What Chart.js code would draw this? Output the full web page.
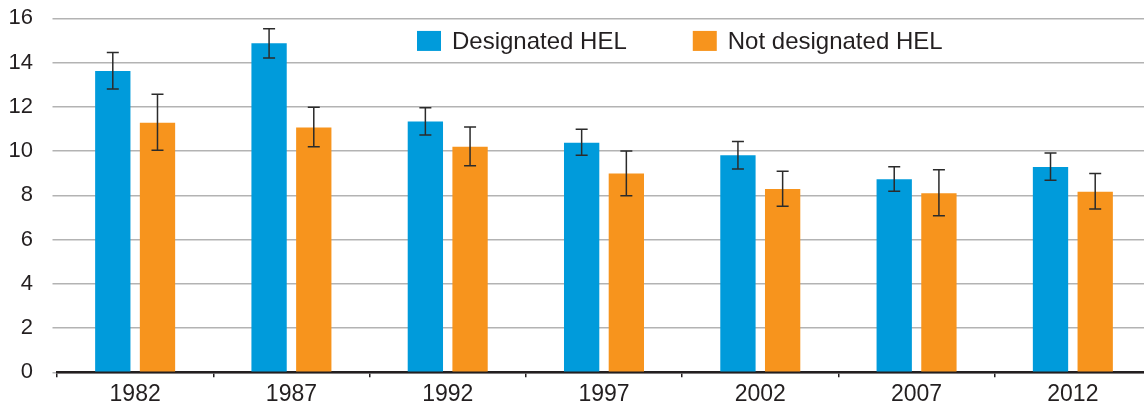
<!DOCTYPE html>
<html>
<head>
<meta charset="utf-8">
<script src="https://cdn.jsdelivr.net/npm/chart.js@4.4.1/dist/chart.umd.min.js"></script>
<style>
  html, body { margin: 0; padding: 0; background: #ffffff; overflow: hidden; }
  #wrap { width: 1152px; height: 404px; }
</style>
</head>
<body>
<div id="wrap"><canvas id="chart" width="1152" height="404"></canvas></div>
<script>
// Survey years on the category axis
const years = ['1982', '1987', '1992', '1997', '2002', '2007', '2012'];

// Designated HEL: estimate and confidence bounds
const helValues = [13.62, 14.87, 11.33, 10.38, 9.81, 8.72, 9.28];
const helLow    = [12.81, 14.21, 10.73, 9.81, 9.19, 8.18, 8.68];
const helHigh   = [14.45, 15.53, 11.96, 10.98, 10.43, 9.29, 9.91];

// Not designated HEL: estimate and confidence bounds
const nonHelValues = [11.28, 11.07, 10.20, 8.98, 8.29, 8.09, 8.16];
const nonHelLow    = [10.04, 10.19, 9.34, 7.98, 7.50, 7.08, 7.38];
const nonHelHigh   = [12.57, 11.98, 11.09, 10.00, 9.09, 9.15, 8.98];

// Value axis ticks
const yTicks = [0, 2, 4, 6, 8, 10, 12, 14, 16];

const FONT = '"Liberation Sans", Arial, Helvetica, sans-serif';
const TEXT = '#231f20';
const BLUE = '#009bdb';
const ORANGE = '#f7941d';

// Whisker lines drawn from each dataset's errLow / errHigh arrays
const errorBars = {
  id: 'errorBars',
  afterDatasetsDraw(chart) {
    const ctx = chart.ctx;
    const y = chart.scales.y;
    ctx.save();
    ctx.strokeStyle = '#2b2b2b';
    ctx.lineWidth = 1.5;
    chart.data.datasets.forEach((ds, i) => {
      const meta = chart.getDatasetMeta(i);
      meta.data.forEach((bar, j) => {
        const x = bar.x;
        const yl = y.getPixelForValue(ds.errLow[j]);
        const yh = y.getPixelForValue(ds.errHigh[j]);
        const cap = 6;
        ctx.beginPath();
        ctx.moveTo(x, yl); ctx.lineTo(x, yh);
        ctx.moveTo(x - cap, yl); ctx.lineTo(x + cap, yl);
        ctx.moveTo(x - cap, yh); ctx.lineTo(x + cap, yh);
        ctx.stroke();
      });
    });
    ctx.restore();
  }
};

// Legend row placed inside the plot, between the top gridlines
const insideLegend = {
  id: 'insideLegend',
  afterDatasetsDraw(chart) {
    const ctx = chart.ctx;
    const y = chart.scales.y;
    const midY = (y.getPixelForValue(16) + y.getPixelForValue(14)) / 2 + 0.5;
    let x = 417;
    ctx.save();
    ctx.font = '24px ' + FONT;
    ctx.textBaseline = 'middle';
    ctx.textAlign = 'left';
    chart.data.datasets.forEach((ds) => {
      ctx.fillStyle = ds.backgroundColor;
      ctx.fillRect(x, midY - 10, 24, 20);
      ctx.fillStyle = TEXT;
      ctx.fillText(ds.label, x + 35, midY + 1);
      x += 35 + ctx.measureText(ds.label).width + 66;
    });
    ctx.restore();
  }
};

new Chart(document.getElementById('chart'), {
  type: 'bar',
  data: {
    labels: years,
    datasets: [
      {
        label: 'Designated HEL',
        data: helValues,
        errLow: helLow,
        errHigh: helHigh,
        backgroundColor: BLUE,
        borderWidth: 0,
        categoryPercentage: 0.572,
        barPercentage: 0.79
      },
      {
        label: 'Not designated HEL',
        data: nonHelValues,
        errLow: nonHelLow,
        errHigh: nonHelHigh,
        backgroundColor: ORANGE,
        borderWidth: 0,
        categoryPercentage: 0.572,
        barPercentage: 0.79
      }
    ]
  },
  options: {
    responsive: false,
    animation: false,
    devicePixelRatio: 1,
    layout: { padding: { top: 18.3, left: 0, right: 1, bottom: 0 } },
    plugins: {
      legend: { display: false },
      tooltip: { enabled: false }
    },
    scales: {
      x: {
        offset: true,
        grid: {
          offset: true,
          drawOnChartArea: false,
          drawTicks: true,
          tickLength: 5,
          color: TEXT,
          lineWidth: 1.5
        },
        border: { display: true, color: TEXT, width: 2.5 },
        ticks: {
          color: TEXT,
          font: { family: FONT, size: 23 },
          padding: 4,
          maxRotation: 0
        },
        afterFit(scale) {
          scale.height = 31.7;
          scale.paddingLeft = 0;
          scale.paddingRight = 0;
        }
      },
      y: {
        min: 0,
        max: 16,
        afterBuildTicks(scale) { scale.ticks = yTicks.map(v => ({ value: v })); },
        grid: {
          color: '#b3b3b3',
          lineWidth: 1.5,
          drawTicks: true,
          tickLength: 4.5
        },
        border: { display: false },
        ticks: {
          color: TEXT,
          font: { family: FONT, size: 22 },
          padding: 19.5
        },
        afterFit(scale) {
          scale.width = 57;
          scale.paddingTop = 0;
          scale.paddingBottom = 0;
        }
      }
    }
  },
  plugins: [errorBars, insideLegend]
});
</script>
</body>
</html>
